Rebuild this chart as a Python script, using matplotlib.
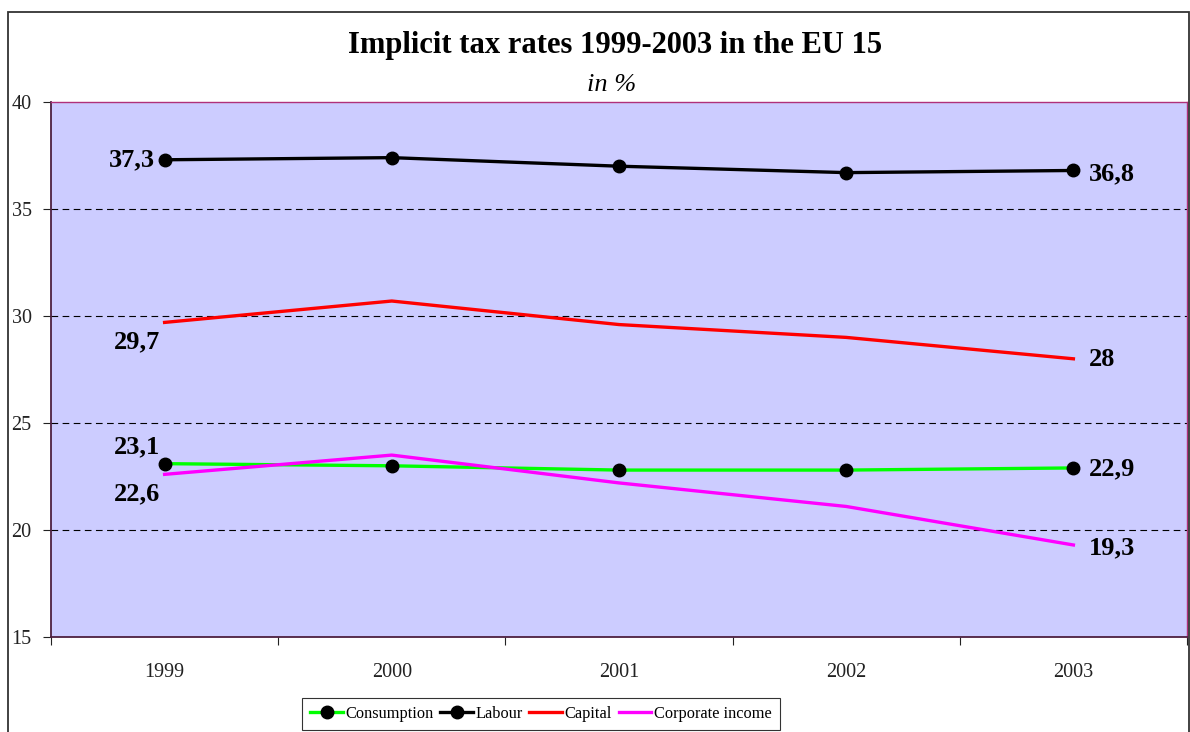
import matplotlib.pyplot as plt
from matplotlib.patches import Rectangle
from matplotlib.ticker import FixedLocator, NullFormatter

plt.rcParams['font.family'] = ['Liberation Serif', 'DejaVu Serif']

years = ['1999', '2000', '2001', '2002', '2003']
consumption = [23.1, 23.0, 22.8, 22.8, 22.9]
labour = [37.3, 37.4, 37.0, 36.7, 36.8]
capital = [29.7, 30.7, 29.6, 29.0, 28.0]
corporate = [22.6, 23.5, 22.2, 21.1, 19.3]

x = list(range(len(years)))

fig = plt.figure(figsize=(11.9, 7.32), dpi=100)
ax = fig.add_axes([51/1190, 95/732, (1187-51)/1190, (637-102)/732])
ax.set_facecolor('#ccccff')

# outer chart border
fig.patches.append(Rectangle((8/1190, -0.01), (1189-8)/1190, (720/732) + 0.01, transform=fig.transFigure,
                             fill=False, edgecolor='#333333', linewidth=1.3))

for yv in [20, 25, 30, 35]:
    ax.axhline(yv, color='black', linewidth=0.8, linestyle=(0, (6, 4)), zorder=1)

ax.plot(x, consumption, color='#00ff00', linewidth=2.4, marker='o', markersize=9,
        markerfacecolor='black', markeredgecolor='black', label='Consumption', zorder=3)
ax.plot(x, labour, color='black', linewidth=2.4, marker='o', markersize=9,
        markerfacecolor='black', markeredgecolor='black', label='Labour', zorder=3)
ax.plot(x, capital, color='#ff0000', linewidth=2.4, label='Capital', zorder=3)
ax.plot(x, corporate, color='#ff00ff', linewidth=2.4, label='Corporate income', zorder=4)

lab_kw = dict(textcoords='offset pixels', fontsize=19, fontweight='bold', va='center')
ax.annotate('37,3', (0, labour[0]), xytext=(-10, 0), ha='right', **lab_kw)
ax.annotate('36,8', (4, labour[-1]), xytext=(15, -3), ha='left', **lab_kw)
ax.annotate('29,7', (0, capital[0]), xytext=(-4, -19), ha='right', **lab_kw)
ax.annotate('28', (4, capital[-1]), xytext=(15, -1), ha='left', **lab_kw)
ax.annotate('23,1', (0, consumption[0]), xytext=(-4, 17), ha='right', **lab_kw)
ax.annotate('22,6', (0, corporate[0]), xytext=(-4, -19), ha='right', **lab_kw)
ax.annotate('22,9', (4, consumption[-1]), xytext=(15, -1), ha='left', **lab_kw)
ax.annotate('19,3', (4, corporate[-1]), xytext=(15, -3), ha='left', **lab_kw)

ax.set_xlim(-0.5, len(years) - 0.5)
ax.set_ylim(15, 40)
ax.set_yticks([15, 20, 25, 30, 35, 40])
ax.tick_params(axis='y', direction='out', length=6, labelsize=14.5, colors='#222222', pad=8)

ax.xaxis.set_major_locator(FixedLocator([i - 0.5 for i in range(len(years) + 1)]))
ax.xaxis.set_major_formatter(NullFormatter())
ax.xaxis.set_minor_locator(FixedLocator(x))
ax.set_xticklabels(years, minor=True)
ax.tick_params(axis='x', which='major', direction='out', length=6, colors='#222222')
ax.tick_params(axis='x', which='minor', length=0, labelsize=14.5, pad=19, colors='#222222')

for s in ['left', 'bottom']:
    ax.spines[s].set_color('#4d2040')
    ax.spines[s].set_linewidth(1.3)
for s in ['top', 'right']:
    ax.spines[s].set_color('#b0307a')
    ax.spines[s].set_linewidth(1.0)

fig.text(615/1190, 1 - 45/732, 'Implicit tax rates 1999-2003 in the EU 15', ha='center', va='center',
         fontsize=22, fontweight='bold')
fig.text(612/1190, 1 - 85/732, 'in %', ha='center', va='center', fontsize=19, style='italic')

leg = fig.legend(loc='lower center', bbox_to_anchor=(541/1190, 0.0), ncol=4, fontsize=11.8,
                 frameon=True, fancybox=False, edgecolor='black', handlelength=2.0,
                 handletextpad=0.15, columnspacing=0.4, borderpad=0.5, borderaxespad=0.1)
leg.get_frame().set_linewidth(0.8)

fig.savefig('out.png', dpi=100)
